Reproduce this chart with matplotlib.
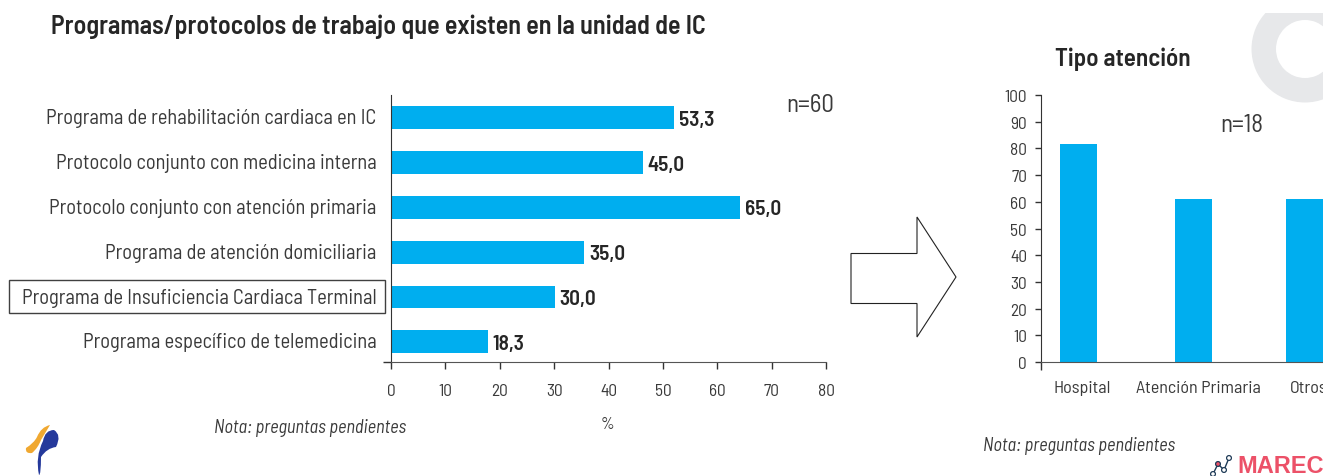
import matplotlib
matplotlib.use("Agg")
import matplotlib.pyplot as plt
from matplotlib.patches import Polygon, Rectangle, Wedge, PathPatch, Circle
from matplotlib.path import Path
from matplotlib.transforms import ScaledTranslation

FONT = ["Barlow Semi Condensed", "DejaVu Sans"]
plt.rcParams["font.family"] = FONT

title_main = "Programas/protocolos de trabajo que existen en la unidad de IC"
title_side = "Tipo atención"
note = "Nota: preguntas pendientes"
programas = ["Programa de rehabilitación cardiaca en IC",
             "Protocolo conjunto con medicina interna",
             "Protocolo conjunto con atención primaria",
             "Programa de atención domiciliaria",
             "Programa de Insuficiencia Cardiaca Terminal",
             "Programa específico de telemedicina"]
longitud_barras = [52.0, 46.3, 64.2, 35.5, 30.1, 17.8]
etiquetas_pct = ["53,3", "45,0", "65,0", "35,0", "30,0", "18,3"]
xticks_main = [0, 10, 20, 30, 40, 50, 60, 70, 80]
tipos = ["Hospital", "Atención Primaria", "Otros"]
pct_tipos = [81.7, 61.1, 61.1]
yticks_side = [0, 10, 20, 30, 40, 50, 60, 70, 80, 90, 100]

W, H = 1323, 477
BLUE = "#00AEEF"
DARK = "#262626"
GREY = "#3A3A3A"
fig = plt.figure(figsize=(W / 100, H / 100), dpi=100, facecolor="white")

def axes_px(x0, y0, x1, y1):
    return fig.add_axes([x0 / W, 1 - y1 / H, (x1 - x0) / W, (y1 - y0) / H])

ov = fig.add_axes([0, 0, 1, 1], zorder=0)
ov.set_xlim(0, W); ov.set_ylim(H, 0); ov.axis("off")

ring = Wedge((1305, 50), 53.5, 0, 360, width=24.5, fc="#E7E8EA", ec="none")
ov.add_patch(ring)
ring.set_clip_path(Rectangle((1200, 14), 200, 120, transform=ov.transData))

# main chart
ax = axes_px(391, 96, 826, 363)
ax.set_facecolor("none")
ypos = list(range(len(programas)))
ybottom = 5.45
ax.barh(ypos, longitud_barras, height=0.51, color=BLUE)
ax.set_xlim(0, 80)
ax.set_ylim(ybottom, -0.51)
ax.set_yticks(ypos, programas, fontsize=14.75, color=GREY)
ax.set_yticks([ybottom], minor=True)
ax.tick_params(axis="y", which="major", length=0, pad=10.3)
ax.tick_params(axis="y", which="minor", length=6, width=1, color="#333333")
for lbl in ax.get_yticklabels():
    lbl.set_transform(lbl.get_transform() + ScaledTranslation(0, 2 / 100, fig.dpi_scale_trans))
ax.set_xticks(xticks_main, [str(v) for v in xticks_main], fontsize=12.5, color=GREY)
ax.tick_params(axis="x", length=5, width=1, color="#333333", pad=10)
ax.spines[["top", "right"]].set_visible(False)
ax.spines["left"].set_color("#333333")
ax.spines["bottom"].set_color("#555555")
for y, v, t in zip(ypos, longitud_barras, etiquetas_pct):
    ax.annotate(t, (v, y), xytext=(3.6, -1), textcoords="offset points",
                va="center", ha="left", fontsize=15.3, fontweight="semibold", color=DARK)

# side chart (x in pixels from the axis)
ax2 = axes_px(1041, 96, 1323, 363)
ax2.set_facecolor("none")
bar_centres = [37.5, 152.5, 263.5]
label_centres = [41, 157, 268]
ax2.bar(bar_centres, pct_tipos, width=37, color=BLUE, clip_on=True)
ax2.set_xlim(0, 282)
ax2.set_ylim(0, 100)
ax2.set_yticks(yticks_side, [str(v) for v in yticks_side], fontsize=12.5, color=GREY)
ax2.tick_params(axis="y", length=4, width=1, color="#333333", pad=6)
ax2.set_xticks(label_centres, tipos, fontsize=13, color=GREY)
ax2.tick_params(axis="x", which="major", length=0, pad=13)
ax2.set_xticks([0], minor=True)
ax2.tick_params(axis="x", which="minor", length=6, width=1, color="#333333")
ax2.spines[["top", "right"]].set_visible(False)
ax2.spines["left"].set_color("#333333")
ax2.spines["bottom"].set_color("#555555")

top = fig.add_axes([0, 0, 1, 1], zorder=5)
top.set_xlim(0, W); top.set_ylim(H, 0); top.axis("off")
top.set_facecolor("none")
top.text(51, 27, title_main, fontsize=18.75, fontweight="semibold", color=DARK, va="center", ha="left")
top.text(1055, 59, title_side, fontsize=18.1, fontweight="semibold", color=DARK, va="center", ha="left")
top.text(786, 105, "n=60", fontsize=18, color=GREY, va="center", ha="left")
top.text(1220, 125, "n=18", fontsize=18, color=GREY, va="center", ha="left")
top.text(214, 428, note, fontsize=13.2, style="italic", color=GREY, va="center", ha="left")
top.text(983, 446, note, fontsize=13.2, style="italic", color=GREY, va="center", ha="left")
top.text(607, 425, "%", fontsize=12, color=GREY, va="center", ha="center")
top.add_patch(Rectangle((9, 281), 376, 33, fc="none", ec="#404040", lw=1))
top.add_patch(Polygon([(851, 254.5), (917, 254.5), (917, 218), (956, 278), (917, 338), (917, 304.5), (851, 304.5)],
                      closed=True, fc="white", ec="#222222", lw=0.8))

orange = Path([(50, 426), (41, 428), (37, 438), (34, 444), (26, 449), (25, 455), (32, 454), (38, 449), (41, 441), (50, 426)],
              [Path.MOVETO] + [Path.CURVE3] * 8 + [Path.LINETO])
top.add_patch(PathPatch(orange, fc="#F0A830", ec="none"))
blue = Path([(54, 431), (45, 431), (43, 442), (35, 458), (39, 476), (41, 476), (41, 458), (47, 449), (56, 448), (62, 436), (54, 431)],
            [Path.MOVETO] + [Path.CURVE3] * 9 + [Path.LINETO])
top.add_patch(PathPatch(blue, fc="#25399B", ec="none"))

top.text(1237, 466.5, "MAREC", fontsize=17, fontweight="bold", color="#EC5168", va="center", ha="left",
         family=["Liberation Sans", "DejaVu Sans"])
navy = "#1F3B57"
nodes = [(1213, 475), (1218, 465), (1224, 471), (1229, 459)]
top.plot([n[0] for n in nodes], [n[1] for n in nodes], color=navy, lw=1)
for i, n in enumerate(nodes):
    top.add_patch(Circle(n, 2.4, fc="#EC5168" if i == 1 else "white", ec=navy, lw=0.9, zorder=4))

fig.savefig("out.png", dpi=100)
